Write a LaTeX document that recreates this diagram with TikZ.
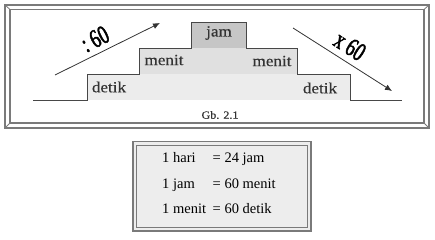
\documentclass[tikz,border=0pt]{standalone}
\usepackage{fontspec}
\setmainfont{Liberation Serif}
\newfontfamily\stepfont[FakeStretch=1.1,FakeBold=0.4]{Liberation Serif}
\newfontfamily\opfont[FakeStretch=0.7,FakeBold=1.8]{Liberation Serif}
\usetikzlibrary{arrows.meta}
\definecolor{ink}{HTML}{333333}
\definecolor{framegray}{HTML}{7A7A7A}
\definecolor{bandlow}{HTML}{ECECEC}
\definecolor{bandmid}{HTML}{E0E0E0}
\definecolor{bandtop}{HTML}{C6C6C6}
\definecolor{boxfill}{HTML}{EDEDED}
\tikzset{
  frameline/.style={draw=framegray, line width=1.1pt},
  bevel/.style={draw=framegray, line width=0.8pt},
  stairline/.style={draw=ink!90, line width=0.9pt},
  steplabel/.style={inner sep=0pt, text=ink, font=\stepfont\fontsize{15.5}{16}\selectfont},
  oplabel/.style={inner sep=0pt, text=black, font=\opfont\fontsize{26}{27}\selectfont},
  dirarrow/.style={draw=ink, line width=0.8pt, -{Latex[length=7pt,width=6pt]}},
  rowlabel/.style={inner sep=0pt, anchor=base west, text=black, font=\fontsize{14.5}{16}\selectfont},
}
\begin{document}
\begin{tikzpicture}[x=1pt,y=-1pt]
\useasboundingbox (0,0) rectangle (435,240);

% picture frame: double border with bevelled corners
\draw[frameline] (5,5) rectangle (429,128);
\draw[frameline] (10,9.5) rectangle (424,123);
\draw[bevel] (5,5) -- (10,9.5);
\draw[bevel] (429,5) -- (424,9.5);
\draw[bevel] (5,128) -- (10,123);
\draw[bevel] (429,128) -- (424,123);

% stair bands
\fill[bandlow] (87,100) rectangle (350,74);
\fill[bandmid] (139,74) rectangle (297,48);
\fill[bandtop] (191,48) rectangle (246,22);
\draw[stairline] (33,100) -- (87,100) -- (87,74) -- (139,74) -- (139,48)
  -- (191,48) -- (191,22) -- (246,22) -- (246,48) -- (297,48) -- (297,74)
  -- (350,74) -- (350,100) -- (402,100);

% stair labels
\node[steplabel] (jam) at (219,33) {jam};
\node[steplabel] (menitL) at (164,60) {menit};
\node[steplabel] (menitR) at (272,61) {menit};
\node[steplabel] (detikL) at (109,87) {detik};
\node[steplabel] (detikR) at (320,88) {detik};
\node[inner sep=0pt, text=ink, font=\stepfont\fontsize{11}{12}\selectfont] (cap) at (220,115) {Gb. 2.1};

% conversion arrows
\coordinate (upS) at (55,75);
\coordinate (upE) at (160,23);
\coordinate (dnS) at (293,28);
\coordinate (dnE) at (392,91);
\draw[dirarrow] (upS) -- (upE);
\draw[dirarrow] (dnS) -- (dnE);
\node[oplabel, rotate=27] (div) at (95,39) {:\,60};
\node[oplabel, rotate=-33] (mul) at (350,46) {x\,60};

% table of equalities
\draw[draw=framegray, fill=boxfill, line width=1.1pt] (133,141.5) rectangle (311,231);
\draw[draw=framegray, line width=0.8pt] (136.5,145) rectangle (307.5,227.5);
\node[rowlabel] (r1a) at (162,162) {1 hari};
\node[rowlabel] (r1b) at (212.5,162) {= 24 jam};
\node[rowlabel] (r2a) at (162,188) {1 jam};
\node[rowlabel] (r2b) at (212.5,188) {= 60 menit};
\node[rowlabel] (r3a) at (162,213) {1 menit};
\node[rowlabel] (r3b) at (212.5,213) {= 60 detik};
\end{tikzpicture}
\end{document}
